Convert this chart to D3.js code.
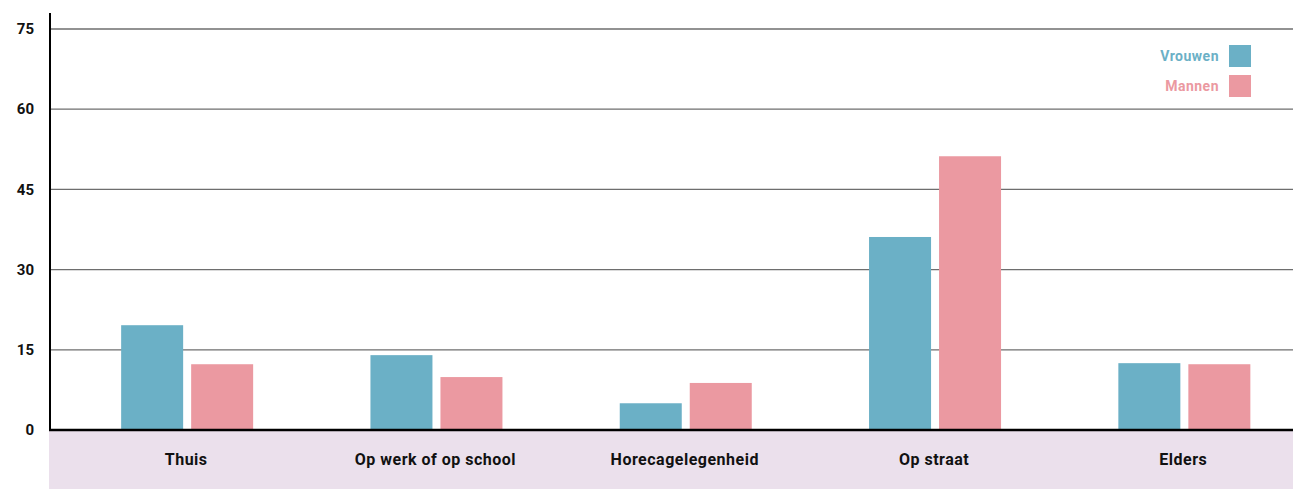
<!DOCTYPE html>
<html>
<head>
<meta charset="utf-8">
<script src="https://cdn.jsdelivr.net/npm/d3@7"></script>
<style>
  body { margin: 0; background: #fff; }
  svg text { font-family: Roboto, "Noto Sans", sans-serif; font-weight: 700; }
</style>
</head>
<body>
<div id="chart"></div>
<script>
// Gegevens
const categories = ['Thuis', 'Op werk of op school', 'Horecagelegenheid', 'Op straat', 'Elders'];
const series = ['Vrouwen', 'Mannen'];
const vrouwen = [19.6, 14.0, 5.0, 36.1, 12.5];
const mannen = [12.3, 9.9, 8.8, 51.2, 12.3];
const yTicks = [0, 15, 30, 45, 60, 75];

const colors = { Vrouwen: '#6bb0c6', Mannen: '#eb99a1' };

const width = 1293;
const height = 489;

const svg = d3.select('#chart')
  .append('svg')
  .attr('width', width)
  .attr('height', height);

// schalen
const y = d3.scaleLinear()
  .domain([0, 75])
  .range([430, 29]);

const x = d3.scaleBand()
  .domain(categories)
  .range([62.5, 1309])
  .padding(0);

const xInner = d3.scaleBand()
  .domain(series)
  .range([0, 132])
  .paddingInner(0.1143);

// paarse band onder de as
svg.append('rect')
  .attr('x', 49)
  .attr('y', y(0))
  .attr('width', width - 49)
  .attr('height', height - y(0))
  .attr('fill', '#ebe0ec');

// rasterlijnen
svg.append('g')
  .selectAll('line')
  .data(yTicks.filter(d => d > 0))
  .enter()
  .append('line')
  .attr('x1', 50)
  .attr('x2', width)
  .attr('y1', d => y(d))
  .attr('y2', d => y(d))
  .attr('stroke', '#6e6e6e')
  .attr('stroke-width', 1.3);

// y-labels
svg.append('g')
  .selectAll('text')
  .data(yTicks)
  .enter()
  .append('text')
  .attr('x', 34)
  .attr('y', d => y(d))
  .attr('dy', '0.35em')
  .attr('text-anchor', 'end')
  .attr('font-size', 15)
  .attr('fill', '#111')
  .text(d => d);

// balken
const data = categories.map((c, i) => ({ category: c, Vrouwen: vrouwen[i], Mannen: mannen[i] }));

const groups = svg.append('g')
  .selectAll('g')
  .data(data)
  .enter()
  .append('g')
  .attr('transform', d => `translate(${x(d.category) + x.bandwidth() / 2 - 66},0)`);

groups.selectAll('rect')
  .data(d => series.map(s => ({ key: s, value: d[s] })))
  .enter()
  .append('rect')
  .attr('x', d => xInner(d.key))
  .attr('y', d => y(d.value))
  .attr('width', xInner.bandwidth())
  .attr('height', d => y(0) - y(d.value))
  .attr('fill', d => colors[d.key]);

// x-labels
svg.append('g')
  .selectAll('text')
  .data(categories)
  .enter()
  .append('text')
  .attr('x', d => x(d) + x.bandwidth() / 2 - 1)
  .attr('y', 459)
  .attr('dy', '0.35em')
  .attr('text-anchor', 'middle')
  .attr('font-size', 16)
  .attr('letter-spacing', 0.5)
  .attr('fill', '#111')
  .text(d => d);

// assen
svg.append('line')
  .attr('x1', 50).attr('x2', 50)
  .attr('y1', 13).attr('y2', y(0))
  .attr('stroke', '#000')
  .attr('stroke-width', 2);

svg.append('line')
  .attr('x1', 49).attr('x2', width)
  .attr('y1', y(0)).attr('y2', y(0))
  .attr('stroke', '#000')
  .attr('stroke-width', 2.5);

// legenda
const legend = svg.append('g')
  .selectAll('g')
  .data(series)
  .enter()
  .append('g')
  .attr('transform', (d, i) => `translate(1229,${45 + i * 30})`);

legend.append('rect')
  .attr('width', 22)
  .attr('height', 22)
  .attr('fill', d => colors[d]);

legend.append('text')
  .attr('x', -10)
  .attr('y', 11)
  .attr('dy', '0.35em')
  .attr('text-anchor', 'end')
  .attr('font-size', 14)
  .attr('letter-spacing', 0.5)
  .attr('fill', d => colors[d])
  .text(d => d);
</script>
</body>
</html>
